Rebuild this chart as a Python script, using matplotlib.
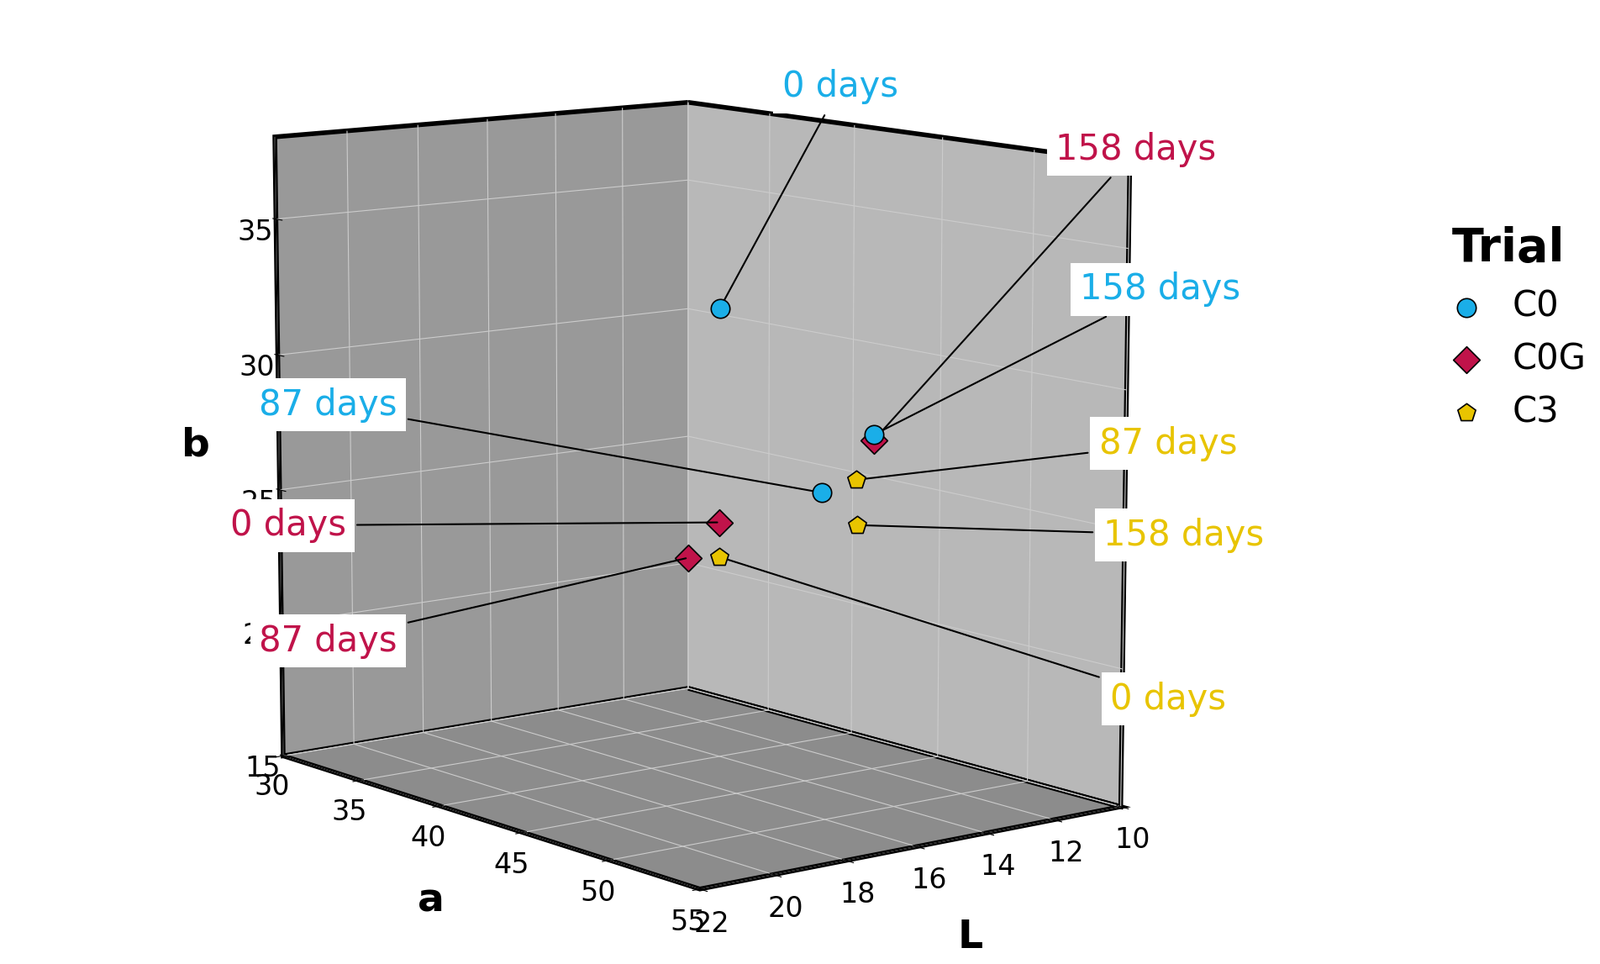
import matplotlib
matplotlib.use("Agg")
import matplotlib.pyplot as plt
from mpl_toolkits.mplot3d import proj3d

trials = ["C0", "C0G", "C3"]
days = ["0 days", "87 days", "158 days"]
a_vals = {"C0": [36, 44, 45], "C0G": [40, 30, 45], "C3": [42, 44, 46]}
L_vals = {"C0": [12, 13, 12], "C0G": [14, 10, 12], "C3": [15, 12, 13]}
b_vals = {"C0": [31.0, 25.3, 27.4], "C0G": [23.8, 20.2, 27.2], "C3": [23.0, 25.6, 24.4]}
colors = {"C0": "#1aaee8", "C0G": "#c0134a", "C3": "#e8c400"}
markers = {"C0": "o", "C0G": "D", "C3": "p"}
a_ticks = [30, 35, 40, 45, 50, 55]
L_ticks = [10, 12, 14, 16, 18, 20, 22]
b_ticks = [15, 20, 25, 30, 35]

label_pos = {
    ("C0", 0): (0.525, 0.91), ("C0", 1): (0.205, 0.58), ("C0", 2): (0.725, 0.70),
    ("C0G", 0): (0.18, 0.455), ("C0G", 1): (0.205, 0.335), ("C0G", 2): (0.71, 0.845),
    ("C3", 0): (0.73, 0.275), ("C3", 1): (0.73, 0.54), ("C3", 2): (0.74, 0.445),
}

fig = plt.figure(figsize=(19.04, 11.47), dpi=100)
ax = fig.add_axes([0.0, -0.02, 0.85, 1.04], projection="3d")
ax.view_init(elev=10, azim=-38)
ax.set_box_aspect((1.25, 0.95, 1.15), zoom=1.05)
for trial in trials:
    ax.scatter(a_vals[trial], L_vals[trial], b_vals[trial], c=colors[trial], marker=markers[trial],
               s=260, edgecolors="black", linewidths=1.2, depthshade=False, label=trial)
ax.set_xlim(30, 55)
ax.set_ylim(22, 10)
ax.set_zlim(15, 38)
ax.set_xticks(a_ticks); ax.set_yticks(L_ticks); ax.set_zticks(b_ticks)
ax.tick_params(labelsize=24)
ax.zaxis._axinfo["juggled"] = (1, 2, 0)
ax.set_xlabel("a", fontsize=34, fontweight="bold", labelpad=30)
ax.set_ylabel("L", fontsize=34, fontweight="bold", labelpad=30)
ax.set_zlabel("b", fontsize=34, fontweight="bold", labelpad=25)
ax.xaxis.set_pane_color((0.60, 0.60, 0.60, 1))
ax.yaxis.set_pane_color((0.72, 0.72, 0.72, 1))
ax.zaxis.set_pane_color((0.55, 0.55, 0.55, 1))
for axis in (ax.xaxis, ax.yaxis, ax.zaxis):
    axis._axinfo["grid"]["color"] = (0.8, 0.8, 0.8, 1)
    axis.pane.set_edgecolor("black")
    axis.pane.set_linewidth(4)

fig.canvas.draw()
M = ax.get_proj()
for trial in trials:
    for i, d in enumerate(days):
        x2, y2, _ = proj3d.proj_transform(a_vals[trial][i], L_vals[trial][i], b_vals[trial][i], M)
        disp = ax.transData.transform((x2, y2))
        fx, fy = fig.transFigure.inverted().transform(disp)
        ax.annotate(d, xy=(fx, fy), xycoords="figure fraction", xytext=label_pos[(trial, i)],
                    textcoords="figure fraction", fontsize=30, color=colors[trial], ha="center", va="center",
                    bbox=dict(boxstyle="square,pad=0.25", fc="white", ec="none"),
                    arrowprops=dict(arrowstyle="-", color="black", lw=1.5))

leg = fig.legend(loc="center left", bbox_to_anchor=(0.875, 0.66), frameon=False, fontsize=30,
                 title="Trial", title_fontproperties={"size": 40, "weight": "bold"}, markerscale=1.0,
                 handletextpad=0.3)
fig.savefig("out.png", dpi=100)
